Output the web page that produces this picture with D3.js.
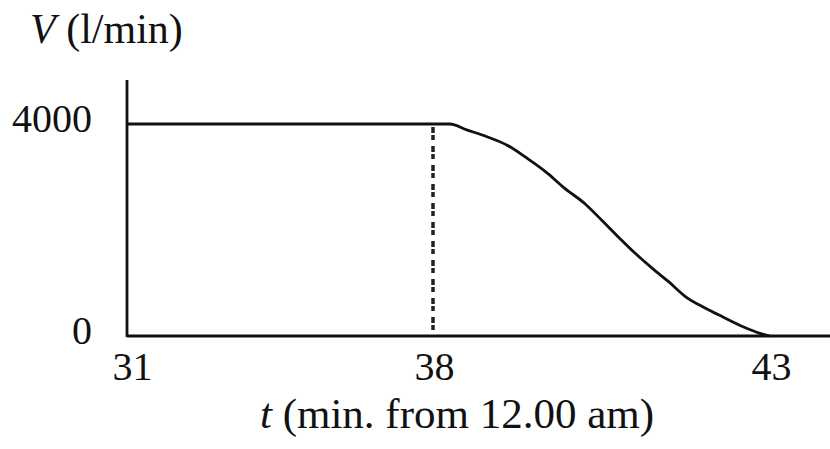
<!DOCTYPE html>
<html>
<head>
<meta charset="utf-8">
<script src="https://cdn.jsdelivr.net/npm/d3@7"></script>
<style>
  body { margin: 0; background: #fff; }
  svg text { font-family: "Liberation Serif", "Times New Roman", serif; fill: #111; }
</style>
</head>
<body>
<svg width="830" height="449"></svg>
<script>
// flat at 4000 until just after t = 38, then drains to 0 at t = 43
const tValues = [31, 38, 38.25, 38.5, 38.8, 39.1, 39.4, 39.7, 39.95, 40.25, 40.5, 40.75, 41.0, 41.25, 41.5, 41.75, 42.05, 42.3, 42.6, 42.85, 43.0];
const vValues = [4000, 4000, 4000, 3890, 3760, 3600, 3350, 3070, 2790, 2500, 2190, 1870, 1560, 1280, 1020, 740, 520, 360, 175, 50, 0];
const xTicks = [31, 38, 43];
const yTicks = [0, 4000];
const markerT = 38;

const data = tValues.map((t, i) => ({t: t, v: vValues[i]}));

const svg = d3.select('svg');
const width = +svg.attr('width');

// the time axis is broken: 31..38 is squeezed compared to 38..43
const x = d3.scaleLinear()
  .domain([31, 38, 43])
  .range([127, 433, 770]);

const y = d3.scaleLinear()
  .domain([0, 4000])
  .range([336, 124]);

// axis lines
svg.append('line')
  .attr('x1', x(31)).attr('x2', width)
  .attr('y1', y(0)).attr('y2', y(0))
  .attr('stroke', '#111').attr('stroke-width', 2.8);

svg.append('line')
  .attr('x1', x(31)).attr('x2', x(31))
  .attr('y1', y(0) + 1).attr('y2', 80)
  .attr('stroke', '#111').attr('stroke-width', 2.8);

// tick labels
const xAxis = svg.append('g')
  .attr('transform', `translate(0,${y(0)})`)
  .call(d3.axisBottom(x).tickValues(xTicks).tickSize(0).tickPadding(16));
xAxis.select('.domain').remove();
xAxis.selectAll('text')
  .attr('font-size', 40)
  .attr('dx', (d, i) => i === 0 ? 5 : 1);

const yAxis = svg.append('g')
  .attr('transform', `translate(${x(31)},0)`)
  .call(d3.axisLeft(y).tickValues(yTicks).tickSize(0).tickPadding(35).tickFormat(d3.format('d')));
yAxis.select('.domain').remove();
yAxis.selectAll('text')
  .attr('font-size', 40)
  .attr('dy', '0.18em');
xAxis.attr('font-family', null);
yAxis.attr('font-family', null);

// dashed marker at t = 38
svg.append('line')
  .attr('x1', x(markerT)).attr('x2', x(markerT))
  .attr('y1', y(4000) + 3).attr('y2', y(0) - 3)
  .attr('stroke', '#222')
  .attr('stroke-width', 3.5)
  .attr('stroke-dasharray', '6,2,5,6');

// flow curve
const line = d3.line()
  .x(d => x(d.t))
  .y(d => y(d.v))
  .curve(d3.curveMonotoneX);

svg.append('path')
  .datum(data)
  .attr('fill', 'none')
  .attr('stroke', '#111')
  .attr('stroke-width', 2.8)
  .attr('d', line);

// axis titles
const title = svg.append('text')
  .attr('x', 30)
  .attr('y', 43)
  .attr('font-size', 42);
title.append('tspan').attr('font-style', 'italic').text('V');
title.append('tspan').text(' (l/min)');

const xTitle = svg.append('text')
  .attr('x', 457)
  .attr('y', 428)
  .attr('text-anchor', 'middle')
  .attr('font-size', 43);
xTitle.append('tspan').attr('font-style', 'italic').text('t');
xTitle.append('tspan').text(' (min. from 12.00 am)');
</script>
</body>
</html>
